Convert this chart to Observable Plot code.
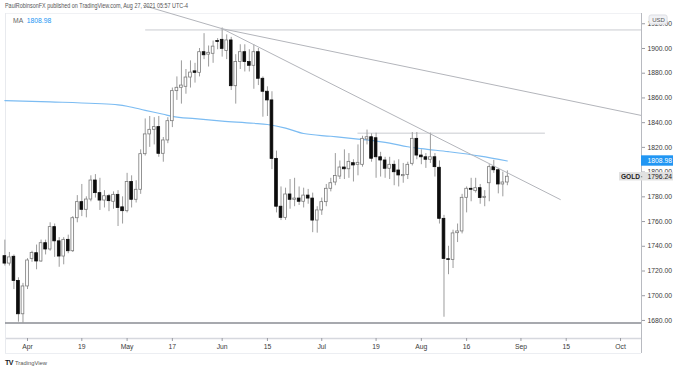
<!DOCTYPE html>
<html><head><meta charset="utf-8">
<script src="https://cdn.jsdelivr.net/npm/d3@7"></script>
<script src="https://cdn.jsdelivr.net/npm/@observablehq/plot@0.6"></script>
<style>
html,body{margin:0;padding:0;background:#fff;}
#chart{position:relative;width:680px;height:370px;overflow:hidden;background:#fff;}
</style></head><body><div id="chart"></div>
<script>
// ---- data (daily candles, index 0 = Apr 1 2021; first candle = index -5) ----
const startIndex = -5;
const openP  = [1732,1726,1731.5,1712,1685,1707.5,1729.8,1734.4,1727.7,1742.5,1737.4,1755.5,1744,1731.7,1745.2,1736,1762.7,1775.7,1769.5,1777.8,1793.2,1783,1777,1780.5,1776,1781.6,1771.5,1768.4,1792,1777.6,1785.7,1814.5,1830.5,1834.2,1836.4,1814.8,1825.6,1841.2,1865.5,1868.2,1869,1876.5,1881.5,1880.3,1897,1895,1895.7,1906,1907,1898,1906.5,1869.5,1889,1897,1889,1886,1897,1875.5,1865,1858,1810.7,1772,1763,1781.9,1777.6,1778.6,1776,1781,1778.6,1760.8,1769,1775.7,1786.5,1791.6,1796.4,1803.7,1802.3,1807.2,1805.9,1805.9,1826.4,1828.2,1827.4,1812,1809.4,1802.7,1805.9,1801.3,1796.7,1797.7,1806.7,1826.9,1813.4,1812,1810,1812,1803.5,1762.2,1729.5,1729,1750.6,1752,1779.2,1786.5,1784.6,1787,1779,1791,1804,1801.5,1790,1791.6];
const highP  = [1745,1735,1733,1714.5,1710,1730,1736,1741,1745,1745,1759,1758,1747,1747,1749,1764,1781,1790,1780,1797,1798,1795,1785,1782,1784,1785,1780,1799,1797,1793,1818,1843,1845,1844,1845,1828,1844,1868,1877,1890,1883,1890,1888,1900,1912,1902,1906,1908,1916.6,1911,1909,1895,1903,1903,1899,1903,1900,1877,1869,1865,1817,1788,1787,1794,1795,1788,1787,1786,1783,1772,1779,1790,1795,1815,1809,1818,1815,1810,1822,1829,1834,1831,1831.5,1816,1812,1812,1809,1810,1807,1808,1832,1832,1818,1815,1831.5,1815,1809,1765,1740,1753,1758,1782,1788,1795,1795,1790,1785,1806,1809.5,1803,1800,1801];
const lowP   = [1724,1724,1705,1678.6,1677.6,1705,1727,1721,1727,1733,1736,1731,1723,1725,1734,1735,1759,1764,1763,1776,1779,1769,1771,1768,1770,1756,1758,1767,1771,1775,1782,1813,1820,1822,1812,1808,1823,1836,1858,1855,1863,1868,1872,1877,1891,1885,1888,1899,1893,1891,1866,1855,1883,1881,1881,1867,1870,1844.4,1845,1802,1767,1760.8,1761,1770,1772,1773,1771,1774,1751,1750.6,1765,1772,1784,1789,1794,1794,1795,1792,1797,1804,1822,1808,1795,1796,1795,1794,1789,1788,1791,1794,1805,1810,1806,1803,1807,1796,1758,1682.6,1717,1722,1743,1750,1767,1776,1783,1774,1772,1776,1799,1782.4,1780,1789];
const closeP = [1726,1731,1712,1685,1707.5,1728.5,1734.5,1727.7,1742.5,1737.4,1755.5,1744,1731.7,1745.2,1736,1762.7,1775.7,1769.5,1777.8,1793.2,1783,1777,1780.5,1776.5,1781.6,1771,1768.4,1792,1777.6,1785.7,1814.5,1830.5,1834.2,1836.4,1814.8,1825.6,1841.2,1865.5,1868.2,1870,1876.5,1880.5,1880.3,1897,1894.5,1896.5,1901.5,1905.2,1899.7,1906.5,1869.5,1889,1897,1889,1886,1897,1875.5,1865,1858,1810.7,1772,1763,1781.9,1777.6,1778.6,1776,1781,1778.6,1760.8,1769,1775.7,1786.5,1791,1796.9,1803.7,1802.3,1808.3,1805.4,1807.5,1826.9,1828.2,1810.8,1812,1809.4,1802.7,1805.9,1799.9,1797.3,1797.7,1805.9,1826.9,1813.4,1812,1810,1812,1804,1762.2,1729.8,1729,1750.4,1752,1779.2,1786.5,1785.7,1787,1779,1780,1804,1801.5,1790,1791.6,1796.24];

// 200-day moving average, read at sample candle indices
const maIdx = [-5,5,15,20,22,26,30,32,37,43,50,53,57,61,67,73,80,84,87,93,100,106];
const maVal = [1857.9,1856.8,1855.5,1854.4,1853.3,1850.0,1846.8,1845.1,1843.2,1841.3,1839.5,1838.5,1835.6,1831.2,1829.0,1826.7,1823.5,1820.5,1819.0,1816.5,1813.0,1808.98];

// drawings
const trend1Idx = [25.6,43.0,135.63];
const trend1Val = [1934.8,1916.0,1845.8];
const trend2Idx = [43.0,117.7];
const trend2Val = [1916.0,1777.8];
const hTopVal = 1915,  hTopFrom = 26.1;
const hMidVal = 1831.5, hMidFrom = 73, hMidTo = 114.4;
const hBotVal = 1678;

// axes
const xTickIdx = [0,12,22,32,43,53,65,77,87,97,109,119,131];
const xTickLabels = ["Apr","19","May","17","Jun","15","Jul","19","Aug","16","Sep","15","Oct"];
const yTicks = [1680,1700,1720,1740,1760,1780,1800,1820,1840,1860,1880,1900,1920];

const maLast = 1808.98, lastPrice = 1796.24, symbol = "GOLD", currency = "USD";
const headerText = "PaulRobinsonFX published on TradingView.com, Aug 27, 2021 05:57 UTC-4";

// ---- build ----
const candles = openP.map((o,k)=>({i:startIndex+k, open:o, high:highP[k], low:lowP[k], close:closeP[k]}));
const up = candles.filter(d=>d.close>=d.open);
const down = candles.filter(d=>d.close<d.open);
const ma = maIdx.map((i,k)=>({i, v:maVal[k]}));
const t1 = trend1Idx.map((i,k)=>({i, v:trend1Val[k]}));
const t2 = trend2Idx.map((i,k)=>({i, v:trend2Val[k]}));

const X0=-4.86, X1=135.63, XR=142.7, Y0=1665.4, Y1=1928.3, YB=1653.3;
const FONT = "'Liberation Sans', Arial, sans-serif";
const BW = 0.3;

const chart = Plot.plot({
  width:680, height:370,
  marginTop:13, marginBottom:32, marginLeft:5, marginRight:39,
  x:{type:"linear", domain:[X0,X1], axis:null, label:null},
  y:{type:"linear", domain:[Y0,Y1], axis:null, label:null},
  style:{fontFamily:FONT, fontSize:"6.8px", color:"#333", background:"#fff", overflow:"visible"},
  marks:[
    // frame lines
    Plot.ruleY([Y0],{x1:X0,x2:X1,stroke:"#d6d8de",strokeWidth:1.5}),
    Plot.ruleY([YB],{x1:X0,x2:X1,stroke:"#eceef2"}),
    Plot.ruleY([Y1],{x1:X0,x2:X1,stroke:"#f0f1f4"}),
    Plot.ruleX([X0],{y1:YB,y2:Y1,stroke:"#e8eaee"}),
    // horizontal drawings
    Plot.ruleY([hBotVal],{x1:X0,x2:X1,stroke:"#8a8c93",strokeWidth:1.5}),
    Plot.ruleY([hTopVal],{x1:hTopFrom,x2:X1,stroke:"#c9cbd0",strokeWidth:1}),
    Plot.ruleY([hMidVal],{x1:hMidFrom,x2:hMidTo,stroke:"#c9cbd0",strokeWidth:1}),
    // moving average
    Plot.line(ma,{x:"i",y:"v",stroke:"#7cbcf2",strokeWidth:1.2,curve:"monotone-x"}),
    // candles
    Plot.ruleX(candles,{x:"i",y1:"low",y2:"high",stroke:"#9c9c9c",strokeWidth:1}),
    Plot.rect(up,{x1:d=>d.i-BW,x2:d=>d.i+BW,y1:"open",y2:"close",fill:"#ffffff",stroke:"#7a7a7a",strokeWidth:0.8}),
    Plot.rect(down,{x1:d=>d.i-BW,x2:d=>d.i+BW,y1:"open",y2:"close",fill:"#0c0c0c",stroke:"#0c0c0c",strokeWidth:0.8}),
    // trend lines
    Plot.line(t1,{x:"i",y:"v",stroke:"#b3b5bb",strokeWidth:1}),
    Plot.line(t2,{x:"i",y:"v",stroke:"#b3b5bb",strokeWidth:1}),
    // axes
    Plot.axisY(yTicks,{anchor:"right",label:null,tickSize:3,tickPadding:3,tickFormat:d=>d.toFixed(2),stroke:"#9a9ca3",fill:"#3a3a3a",fontSize:6.8}),
    Plot.axisX(xTickIdx,{anchor:"bottom",label:null,tickSize:3,tickPadding:3,tickFormat:d=>xTickLabels[xTickIdx.indexOf(d)],stroke:"#9a9ca3",fill:"#3a3a3a",fontSize:6.8}),
    Plot.ruleX([X1],{y1:YB,y2:Y1,stroke:"#b8bac0"}),
    // USD badge
    Plot.rect([currency],{x1:137.4,x2:141.4,y1:1919.4,y2:1926.7,fill:"#f1f2f5",stroke:"#dcdee3",rx:2}),
    Plot.text([currency],{x:139.4,y:1923,text:d=>d,fill:"#555",fontSize:6,textAnchor:"middle"}),
    // MA last value label
    Plot.rect([maLast],{x1:X1,x2:XR,y1:d=>d-4.2,y2:d=>d+4.2,fill:"#2196f3"}),
    Plot.text([maLast],{x:136.96,y:d=>d,text:d=>d.toFixed(2),fill:"#fff",fontSize:6.8,textAnchor:"start"}),
    // last price label
    Plot.rect([lastPrice],{x1:130.77,x2:X1,y1:d=>d-3.4,y2:d=>d+3.4,fill:"#e1e1e1"}),
    Plot.rect([lastPrice],{x1:X1,x2:XR,y1:d=>d-3.4,y2:d=>d+3.4,fill:"#e1e1e1"}),
    Plot.text([lastPrice],{x:133.2,y:d=>d,text:()=>symbol,fill:"#222",fontSize:6.6,fontWeight:"bold",textAnchor:"middle"}),
    Plot.text([lastPrice],{x:136.96,y:d=>d,text:d=>d.toFixed(2),fill:"#222",fontSize:6.8,textAnchor:"start"}),
    Plot.ruleY([lastPrice],{x1:X1,x2:135.9,stroke:"#777"})
  ]
});
document.getElementById("chart").appendChild(chart);

// header & footer texts
const svg = d3.select(chart);
svg.append("text").attr("x",5).attr("y",8.2).attr("font-size",6.6).attr("fill","#555").attr("text-anchor","start")
  .attr("font-family",FONT).attr("textLength",183).attr("lengthAdjust","spacingAndGlyphs").text(headerText);
const ma_t = svg.append("text").attr("x",13).attr("y",22.5).attr("font-size",6.8).attr("font-family",FONT).attr("text-anchor","start");
ma_t.append("tspan").attr("fill","#666").text("MA ");
ma_t.append("tspan").attr("fill","#2196f3").attr("dx",2).text(maLast.toFixed(2));
const tv = svg.append("text").attr("x",5).attr("y",364.5).attr("font-family",FONT).attr("text-anchor","start");
tv.append("tspan").attr("font-size",7).attr("font-weight","900").attr("fill","#131722").attr("letter-spacing",-0.5).text("TV");
tv.append("tspan").attr("font-size",5.8).attr("fill","#555").attr("dx",2).text("TradingView");
</script></body></html>
